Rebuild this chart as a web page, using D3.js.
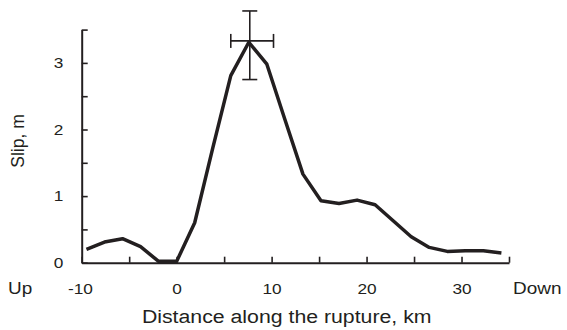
<!DOCTYPE html>
<html>
<head>
<meta charset="utf-8">
<script src="https://cdn.jsdelivr.net/npm/d3@7"></script>
<style>
  body { margin: 0; background: #fff; }
  text { font-family: "Liberation Sans", Arial, sans-serif; fill: #231f20; }
</style>
</head>
<body>
<div class="main_content"></div>
<script>
// distance along the rupture (km) and slip (m)
const distance = [-9.5, -7.6, -5.7, -3.8, -1.9, 0, 1.9, 3.8, 5.7, 7.6, 9.5, 11.4,
    13.3, 15.2, 17.1, 19.0, 20.9, 22.8, 24.7, 26.6, 28.5, 30.4, 32.3, 34.2];
const slip = [0.2, 0.31, 0.36, 0.24, 0.02, 0.02, 0.6, 1.72, 2.81, 3.31, 2.98, 2.15,
    1.33, 0.93, 0.89, 0.94, 0.87, 0.63, 0.39, 0.23, 0.17, 0.18, 0.18, 0.145];

// error cross at the peak
const errX = [5.7, 7.7, 10.2];   // low, centre, high
const errY = [2.75, 3.33, 3.78]; // low, centre, high

const xTicks = [-10, -5, 0, 5, 10, 15, 20, 25, 30, 35];
const yTicks = [0, 0.5, 1, 1.5, 2, 2.5, 3, 3.5];
const xTitle = 'Distance along the rupture, km';
const yTitle = 'Slip, m';
const endLabels = ['Up', 'Down'];

const width = 567, height = 330;
const ink = '#231f20';
const sx = 1.15; // horizontal stretch of the original lettering

let svg = d3.select('.main_content').append('svg')
    .attr('width', width)
    .attr('height', height);

let x = d3.scaleLinear().domain([-10, 35]).range([81.7, 509]);
let y = d3.scaleLinear().domain([0, 3.5]).range([262.7, 29.6]);

// x axis, ticks pointing up
let xAxis = svg.append('g')
    .attr('transform', `translate(0,${y(0)})`)
    .call(d3.axisBottom(x)
        .tickValues(xTicks)
        .tickSizeInner(-6)
        .tickSizeOuter(0)
        .tickPadding(21)
        .tickFormat(d => d % 10 === 0 ? d : ''));

// y axis, ticks pointing right
let yAxis = svg.append('g')
    .attr('transform', `translate(${x(-10)},0)`)
    .call(d3.axisLeft(y)
        .tickValues(yTicks)
        .tickSizeInner(-6)
        .tickSizeOuter(0)
        .tickPadding(16)
        .tickFormat(d => Number.isInteger(d) ? d : ''));

[xAxis, yAxis].forEach(a => {
    a.select('.domain').attr('stroke', ink).attr('stroke-width', 2);
    a.selectAll('.tick line').attr('stroke', ink).attr('stroke-width', 1.6);
    a.selectAll('.tick text')
        .attr('font-size', 15)
        .attr('fill', ink)
        .attr('transform', `scale(${sx},1)`);
});
xAxis.selectAll('.tick text').attr('x', d => d < 0 ? -1.5 : 0);

// slip profile
let line = d3.line()
    .x((d, i) => x(distance[i]))
    .y(d => y(d));

svg.append('path')
    .datum(slip)
    .attr('d', line)
    .attr('fill', 'none')
    .attr('stroke', ink)
    .attr('stroke-width', 3.5)
    .attr('stroke-linejoin', 'round');

// error cross
let err = svg.append('g')
    .attr('stroke', ink)
    .attr('stroke-width', 1.6)
    .attr('fill', 'none');
err.append('line')
    .attr('x1', x(errX[1])).attr('x2', x(errX[1]))
    .attr('y1', y(errY[0])).attr('y2', y(errY[2]));
err.append('line')
    .attr('x1', x(errX[0])).attr('x2', x(errX[2]))
    .attr('y1', y(errY[1])).attr('y2', y(errY[1]));
[errY[0], errY[2]].forEach(v => {
    err.append('line')
        .attr('x1', x(errX[1]) - 7.5).attr('x2', x(errX[1]) + 7.5)
        .attr('y1', y(v)).attr('y2', y(v));
});
[errX[0], errX[2]].forEach(v => {
    err.append('line')
        .attr('x1', x(v)).attr('x2', x(v))
        .attr('y1', y(errY[1]) - 7).attr('y2', y(errY[1]) + 7);
});

// Up / Down labels
svg.append('text')
    .attr('transform', `translate(8,294.3) scale(${sx},1)`)
    .attr('font-size', 16.5)
    .text(endLabels[0]);
svg.append('text')
    .attr('transform', `translate(513,294.3) scale(${sx},1)`)
    .attr('font-size', 16.5)
    .text(endLabels[1]);

// axis titles
svg.append('text')
    .attr('transform', `translate(286.7,322.7) scale(1.12,1)`)
    .attr('text-anchor', 'middle')
    .attr('font-size', 19)
    .text(xTitle);
svg.append('text')
    .attr('transform', `translate(24,141) rotate(-90) scale(1,1.1)`)
    .attr('text-anchor', 'middle')
    .attr('font-size', 17.5)
    .text(yTitle);
</script>
</body>
</html>
